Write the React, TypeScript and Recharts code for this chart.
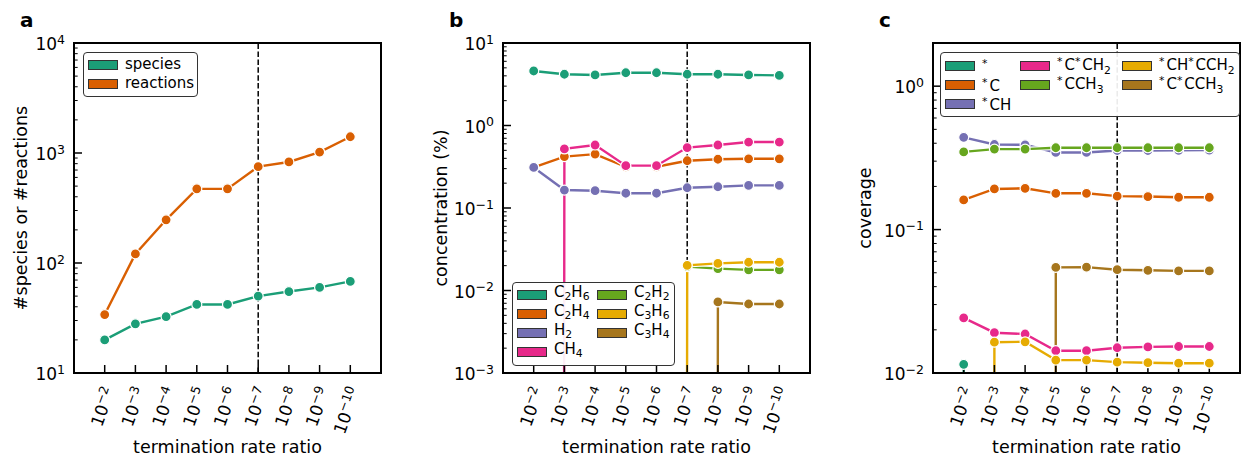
import React from 'react';
import { LineChart, Line, XAxis, YAxis, ReferenceLine, ReferenceArea } from 'recharts';

const FONT = '"DejaVu Sans", sans-serif';

// termination rate ratio, as powers of ten
const ratioExponents = [-2, -3, -4, -5, -6, -7, -8, -9, -10];
const chosenRatio = 5; // 1e-7, marked with the dashed line

// (a) mechanism size
const speciesCount = [20, 28, 32.5, 42, 42, 50, 55, 60, 68];
const reactionCount = [34, 121, 247, 472, 472, 751, 829, 1020, 1405];

// (b) outlet concentration, %
const c2h6Conc = [4.58, 4.18, 4.1, 4.36, 4.36, 4.18, 4.18, 4.1, 4.05];
const c2h4Conc = [0.31, 0.42, 0.45, 0.316, 0.316, 0.374, 0.39, 0.395, 0.395];
const h2Conc = [0.31, 0.165, 0.162, 0.151, 0.151, 0.176, 0.181, 0.188, 0.188];
const ch4Conc = [0, 0.52, 0.58, 0.326, 0.326, 0.54, 0.58, 0.63, 0.63];
const c2h2Conc = [0, 0, 0, 0, 0, 0.0195, 0.0184, 0.0178, 0.0178];
const c3h6Conc = [0, 0, 0, 0, 0, 0.0202, 0.0213, 0.022, 0.022];
const c3h4Conc = [0, 0, 0, 0, 0, 0, 0.00726, 0.00686, 0.00686];

// (c) surface coverage
const freeSites = [0.0115, 0, 0, 0, 0, 0, 0, 0, 0];
const cCov = [0.161, 0.192, 0.194, 0.179, 0.179, 0.171, 0.17, 0.168, 0.168];
const chCov = [0.44, 0.392, 0.39, 0.345, 0.345, 0.356, 0.356, 0.357, 0.358];
const cch2Cov = [0.0242, 0.0191, 0.0187, 0.0143, 0.0143, 0.015, 0.0152, 0.0153, 0.0153];
const cch3Cov = [0.348, 0.364, 0.364, 0.372, 0.372, 0.372, 0.372, 0.372, 0.372];
const chcch2Cov = [0, 0.0164, 0.0165, 0.0123, 0.0123, 0.0119, 0.0118, 0.0117, 0.0117];
const ccch3Cov = [0, 0, 0, 0.0545, 0.0547, 0.0525, 0.052, 0.0515, 0.0515];

const countTicks = [10, 100, 1000, 10000];
const concTicks = [0.001, 0.01, 0.1, 1, 10];
const coverageTicks = [0.01, 0.1, 1];

const DARK2 = ['#1b9e77', '#d95f02', '#7570b3', '#e7298a', '#66a61e', '#e6ab02', '#a6761d'];

const Sub = ({ c }: { c: string }) => (
  <span style={{ fontSize: '0.72em', verticalAlign: '-0.3em' }}>{c}</span>
);
const Star = () => <span style={{ fontSize: '0.72em', verticalAlign: '0.5em', marginRight: 2 }}>*</span>;

type Series = { key: string; label: React.ReactNode; color: string; values: number[] };

const countSeries: Series[] = [
  { key: 'species', label: 'species', color: DARK2[0], values: speciesCount },
  { key: 'reactions', label: 'reactions', color: DARK2[1], values: reactionCount },
];

const gasSeries: Series[] = [
  { key: 'c2h6', label: <>C<Sub c="2" />H<Sub c="6" /></>, color: DARK2[0], values: c2h6Conc },
  { key: 'c2h4', label: <>C<Sub c="2" />H<Sub c="4" /></>, color: DARK2[1], values: c2h4Conc },
  { key: 'h2', label: <>H<Sub c="2" /></>, color: DARK2[2], values: h2Conc },
  { key: 'ch4', label: <>CH<Sub c="4" /></>, color: DARK2[3], values: ch4Conc },
  { key: 'c2h2', label: <>C<Sub c="2" />H<Sub c="2" /></>, color: DARK2[4], values: c2h2Conc },
  { key: 'c3h6', label: <>C<Sub c="3" />H<Sub c="6" /></>, color: DARK2[5], values: c3h6Conc },
  { key: 'c3h4', label: <>C<Sub c="3" />H<Sub c="4" /></>, color: DARK2[6], values: c3h4Conc },
];

const surfaceSeries: Series[] = [
  { key: 'free', label: <Star />, color: DARK2[0], values: freeSites },
  { key: 'c', label: <><Star />C</>, color: DARK2[1], values: cCov },
  { key: 'ch', label: <><Star />CH</>, color: DARK2[2], values: chCov },
  { key: 'cch2', label: <><Star />C<Star />CH<Sub c="2" /></>, color: DARK2[3], values: cch2Cov },
  { key: 'cch3', label: <><Star />CCH<Sub c="3" /></>, color: DARK2[4], values: cch3Cov },
  { key: 'chcch2', label: <><Star />CH<Star />CCH<Sub c="2" /></>, color: DARK2[5], values: chcch2Cov },
  { key: 'ccch3', label: <><Star />C<Star />CCH<Sub c="3" /></>, color: DARK2[6], values: ccch3Cov },
];

// zeros go far below the log axis and get clipped, so the line drops straight down
const onLog = (v: number) => (v > 0 ? v : 1e-300);

const minorTicks = (lo: number, hi: number) => {
  const out: number[] = [];
  for (let e = Math.floor(Math.log10(lo)); e < Math.ceil(Math.log10(hi)); e++) {
    for (let m = 2; m <= 9; m++) {
      const v = m * 10 ** e;
      if (v > lo && v < hi) out.push(v);
    }
  }
  return out;
};

const power = (e: number) => (e < 0 ? `\u2212${-e}` : `${e}`);

const RatioTick = ({ x, y, payload }: any) => (
  <g transform={`translate(${x + 5},${y}) rotate(-70)`}>
    <text textAnchor="end" dy={6} fontSize={17} fontFamily={FONT} fill="#000">
      10<tspan dy={-6.5} fontSize={12.5}>{power(ratioExponents[payload.value])}</tspan>
    </text>
  </g>
);

const PowerTick = ({ x, y, payload }: any) => (
  <text x={x} y={y} dy={7} textAnchor="end" fontSize={17} fontFamily={FONT} fill="#000">
    10<tspan dy={-6.5} fontSize={12.5}>{power(Math.round(Math.log10(payload.value)))}</tspan>
  </text>
);

const XTitle = ({ viewBox }: any) => (
  <text x={viewBox.x + viewBox.width / 2} y={viewBox.y + 80} textAnchor="middle" fontSize={17.5} fontFamily={FONT} fill="#000">
    termination rate ratio
  </text>
);

const YTitle = ({ viewBox, title, labelX }: any) => {
  const cy = viewBox.y + viewBox.height / 2;
  return (
    <text x={labelX} y={cy} transform={`rotate(-90 ${labelX} ${cy})`} textAnchor="middle" fontSize={17.5} fontFamily={FONT} fill="#000">
      {title}
    </text>
  );
};

type LegendSpec = { left: number; top: number; width: number; columns: string; ncol: number; pad: string };

// fill columns the way matplotlib does: the first (n % ncol) columns get one extra entry
const legendSlots = (n: number, ncol: number) => {
  const base = Math.floor(n / ncol);
  const extra = n % ncol;
  const slots: { row: number; col: number }[] = [];
  for (let c = 0; c < ncol; c++) {
    const len = base + (c < extra ? 1 : 0);
    for (let r = 0; r < len; r++) slots.push({ row: r + 1, col: c + 1 });
  }
  return slots;
};

const LegendBox = ({ items, spec }: { items: Series[]; spec: LegendSpec }) => {
  const slots = legendSlots(items.length, spec.ncol);
  const nrow = Math.ceil(items.length / spec.ncol);
  return (
    <div
      style={{
        position: 'absolute',
        left: spec.left,
        top: spec.top,
        width: spec.width,
        boxSizing: 'border-box',
        border: '1px solid #333',
        borderRadius: 4,
        background: 'rgba(255,255,255,0.92)',
        padding: spec.pad,
        display: 'grid',
        gridTemplateRows: `repeat(${nrow}, 19px)`,
        gridTemplateColumns: spec.columns,
        fontFamily: FONT,
        fontSize: 15,
        lineHeight: '19px',
        color: '#000',
      }}
    >
      {items.map((s, i) => (
        <div
          key={s.key}
          style={{ display: 'flex', alignItems: 'center', whiteSpace: 'nowrap', gridRow: slots[i].row, gridColumn: slots[i].col }}
        >
          <span style={{ width: 30, height: 10, background: s.color, border: '1px solid #333', boxSizing: 'border-box', marginRight: 7, flex: 'none' }} />
          <span>{s.label}</span>
        </div>
      ))}
    </div>
  );
};

type PanelProps = {
  letter: string;
  left: number;
  gutter: number;
  yLabel: string;
  yLabelX: number;
  yDomain: [number, number];
  yTicks: number[];
  series: Series[];
  legend: LegendSpec;
};

const Panel = ({ letter, left, gutter, yLabel, yLabelX, yDomain, yTicks, series, legend }: PanelProps) => {
  const rows = ratioExponents.map((_, i) => {
    const row: Record<string, number> = { idx: i };
    series.forEach((s) => {
      row[s.key] = onLog(s.values[i]);
    });
    return row;
  });
  const minor = minorTicks(yDomain[0], yDomain[1]);
  const width = 400 + gutter;

  return (
    <div style={{ position: 'absolute', left, top: 0, width, height: 457 }}>
      <LineChart width={width} height={457} data={rows} margin={{ top: 43, right: 33, bottom: 0, left: gutter }}>
        <ReferenceLine x={chosenRatio} stroke="#000" strokeWidth={1.5} strokeDasharray="5.5 2.4" />
        {minor.map((v) => (
          <ReferenceLine key={v} segment={[{ x: -1, y: v }, { x: -0.88, y: v }]} stroke="#000" strokeWidth={1} />
        ))}
        {series.map((s) => [
          <Line
            key={`${s.key}-halo`}
            dataKey={s.key}
            stroke="#fff"
            strokeWidth={4.6}
            dot={false}
            activeDot={false}
            legendType="none"
            isAnimationActive={false}
          />,
          <Line
            key={s.key}
            dataKey={s.key}
            stroke={s.color}
            strokeWidth={2.4}
            dot={{ r: 5, fill: s.color, stroke: '#fff', strokeWidth: 1.2 }}
            activeDot={false}
            isAnimationActive={false}
          />,
        ])}
        <ReferenceArea x1={-1} x2={9} y1={yDomain[0]} y2={yDomain[1]} fill="none" stroke="#000" strokeWidth={2} />
        <XAxis
          dataKey="idx"
          type="number"
          domain={[-1, 9]}
          ticks={ratioExponents.map((_, i) => i)}
          interval={0}
          allowDataOverflow
          height={84}
          tickSize={-8}
          tickMargin={23}
          tick={<RatioTick />}
          tickLine={{ stroke: '#000', strokeWidth: 1.5 }}
          axisLine={{ stroke: '#000', strokeWidth: 2 }}
          label={<XTitle />}
        />
        <YAxis
          scale="log"
          domain={yDomain}
          ticks={yTicks}
          interval={0}
          allowDataOverflow
          width={60}
          tickSize={-8}
          tickMargin={17}
          tick={<PowerTick />}
          tickLine={{ stroke: '#000', strokeWidth: 1.5 }}
          axisLine={{ stroke: '#000', strokeWidth: 2 }}
          label={<YTitle title={yLabel} labelX={yLabelX} />}
        />
      </LineChart>
      <LegendBox items={series} spec={legend} />
      <div
        style={{
          position: 'absolute',
          left: gutter + 6,
          top: 10,
          fontFamily: FONT,
          fontWeight: 'bold',
          fontSize: 20,
          lineHeight: '20px',
        }}
      >
        {letter}
      </div>
    </div>
  );
};

export default function App() {
  return (
    <div style={{ position: 'relative', width: 1243, height: 457, overflow: 'hidden', background: '#fff' }}>
      <style>{'body{margin:0}'}</style>
      <Panel
        letter="a"
        left={0}
        gutter={14}
        yLabel="#species or #reactions"
        yLabelX={27}
        yDomain={[10, 10000]}
        yTicks={countTicks}
        series={countSeries}
        legend={{ left: 83, top: 52, width: 115, columns: 'auto', ncol: 1, pad: '2px 4px 3px 4px' }}
      />
      <Panel
        letter="b"
        left={419}
        gutter={24}
        yLabel="concentration (%)"
        yLabelX={28}
        yDomain={[0.001, 10]}
        yTicks={concTicks}
        series={gasSeries}
        legend={{ left: 93, top: 282, width: 163, columns: '80px auto', ncol: 2, pad: '2px 4px 4px 4px' }}
      />
      <Panel
        letter="c"
        left={849}
        gutter={24}
        yLabel="coverage"
        yLabelX={22}
        yDomain={[0.01, 2]}
        yTicks={coverageTicks}
        series={surfaceSeries}
        legend={{ left: 91, top: 52, width: 300, columns: '75px 102px auto', ncol: 3, pad: '3px 4px 3px 4px' }}
      />
    </div>
  );
}
